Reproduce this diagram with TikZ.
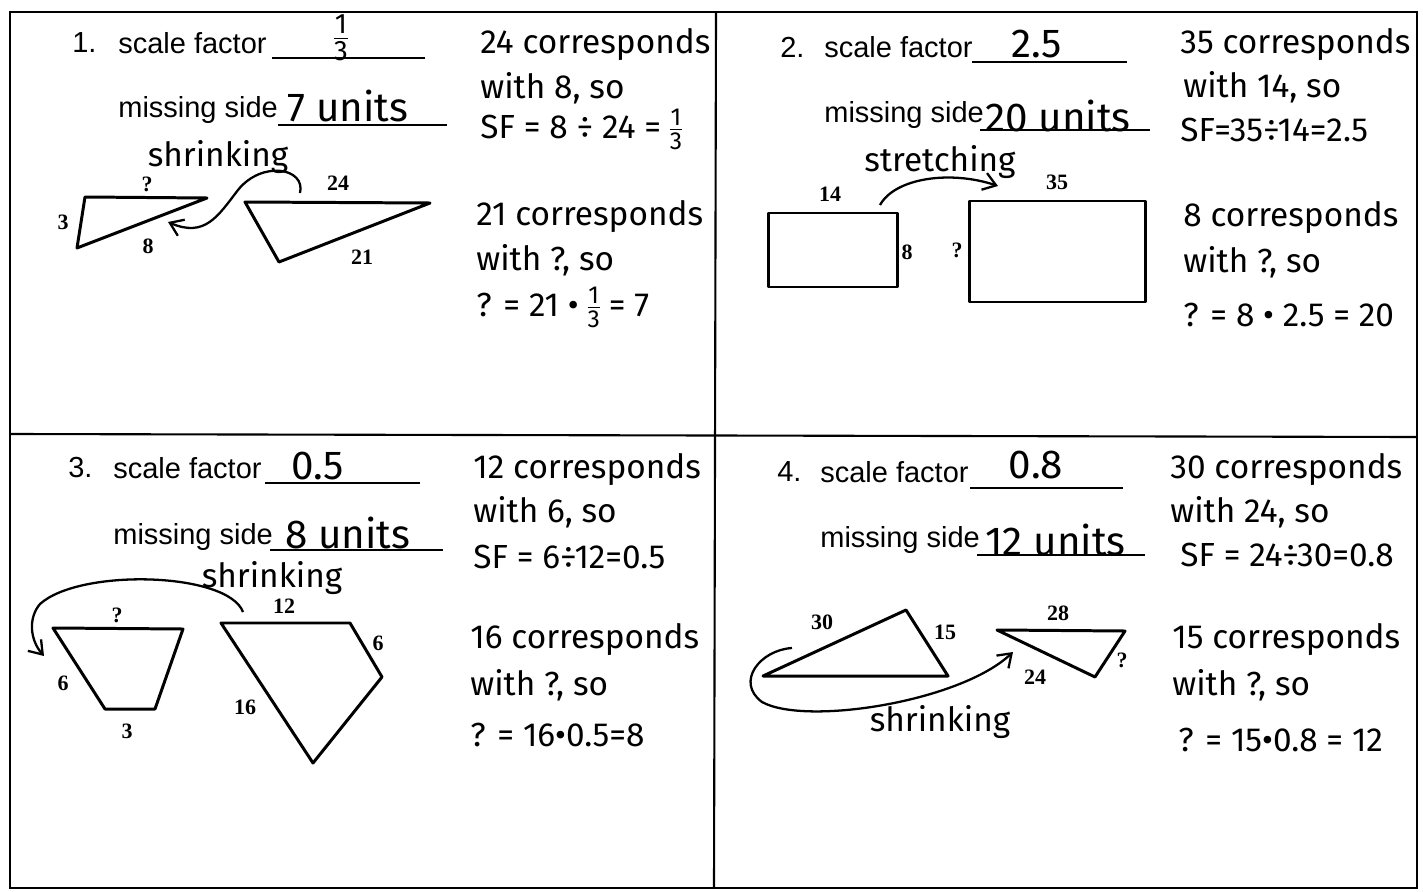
\documentclass[tikz,border=0pt]{standalone}
\usepackage{fontspec}
\setmainfont{Liberation Sans}
\newfontfamily\handfont{Fira Sans}
\newfontfamily\labelfont{Liberation Serif}
\usetikzlibrary{arrows.meta,positioning}
\tikzset{
  printed/.style={font=\fontsize{16.5}{19}\selectfont, anchor=west, inner sep=0pt},
  hand/.style={font=\handfont\fontsize{19}{22}\selectfont, anchor=west, inner sep=0pt},
  answer/.style={font=\handfont\fontsize{23}{26}\selectfont, inner sep=0pt},
  sidelabel/.style={font=\labelfont\bfseries\fontsize{12.5}{14}\selectfont, inner sep=1pt},
  figline/.style={line width=1.7pt, line join=round},
  curvearrow/.style={-{Straight Barb[length=2.5mm,width=3.5mm]}, line width=1.3pt},
  frame/.style={line width=1.2pt},
  answerline/.style={line width=0.8pt}
}
\newcommand\hwfrac[2]{\begin{tabular}{@{}c@{}}#1\\[-3pt]\hline #2\end{tabular}}

\begin{document}
\begin{tikzpicture}[x=0.02cm, y=-0.02cm]
  \useasboundingbox (0,0) rectangle (1423,892);
  % frame
  \draw[frame] (10,12) rectangle (1417,888);
  \draw[frame] (716,12) -- (714,888);
  \draw[frame] (10,434) -- (1417,437);

  % problem 1
  \node[printed] (num1) at (72,43) {1.};
  \node[printed] (sf1) at (118,43) {scale factor};
  \draw[answerline] (272,58) -- (425,58);
  \node[answer, font=\handfont\fontsize{16}{18}\selectfont] (sfval1) at (341,41) {\hwfrac{1}{3}};
  \node[printed] (ms1) at (118,110) {missing side};
  \draw[answerline] (278,125) -- (447,125);
  \node[answer, anchor=west] (msval1) at (287,106) {7 units};
  \node[hand] (wa1) at (480,45) {24 corresponds};
  \node[hand] (wb1) at (480,88) {with 8, so};
  \node[hand] (wc1) at (480,132) {SF = 8 ÷ 24 = {\fontsize{14}{16}\selectfont\hwfrac{1}{3}}};
  \node[hand] (wd1) at (476,217) {21 corresponds};
  \node[hand] (we1) at (476,260) {with ?, so};
  \node[hand] (wf1) at (476,310) {? = 21 \textbullet\ {\fontsize{14}{16}\selectfont\hwfrac{1}{3}} = 7};

  \coordinate (sa1) at (85,197);
  \coordinate (sb1) at (207,198);
  \coordinate (sc1) at (77,248);
  \coordinate (la1) at (245,202);
  \coordinate (lb1) at (430,203);
  \coordinate (lc1) at (279,262);
  \draw[figline] (sa1) -- (sb1) -- (sc1) -- cycle;
  \draw[figline] (la1) -- (lb1) -- (lc1) -- cycle;
  \node[sidelabel] (q1) at (147,184) {?};
  \node[sidelabel] (s3) at (63,222) {3};
  \node[sidelabel] (s8) at (148,246) {8};
  \node[sidelabel] (s24) at (338,183) {24};
  \node[sidelabel] (s21) at (362,257) {21};
  \coordinate (from1) at (300,193);
  \coordinate (to1) at (168,222);
  \draw[curvearrow] (from1) .. controls (306,168) and (262,160) .. (238,190)
    .. controls (218,216) and (205,238) .. (to1);
  \node[hand] (tag1) at (218,157) [anchor=center] {shrinking};

  % problem 2
  \node[printed] (num2) at (780,47) {2.};
  \node[printed] (sf2) at (824,47) {scale factor};
  \draw[answerline] (972,62) -- (1127,62);
  \node[answer] (sfval2) at (1037,44) {2.5};
  \node[printed] (ms2) at (824,115) {missing side};
  \draw[answerline] (980,130) -- (1150,130);
  \node[answer, anchor=west] (msval2) at (985,116) {20 units};
  \node[hand] (wa2) at (1180,45) {35 corresponds};
  \node[hand] (wb2) at (1183,87) {with 14, so};
  \node[hand] (wc2) at (1180,130) {SF=35÷14=2.5};
  \node[hand] (wd2) at (1183,218) {8 corresponds};
  \node[hand] (we2) at (1183,262) {with ?, so};
  \node[hand] (wf2) at (1183,315) {? = 8 \textbullet\ 2.5 = 20};

  \draw[figline] (768,213) rectangle (897,287);
  \draw[figline] (969,201) rectangle (1145,302);
  \node[sidelabel] (s14) at (830,194) {14};
  \node[sidelabel] (s8b) at (907,252) {8};
  \node[sidelabel] (q2) at (957,250) {?};
  \node[sidelabel] (s35) at (1057,182) {35};
  \coordinate (from2) at (880,205);
  \coordinate (to2) at (998,186);
  \draw[curvearrow] (from2) .. controls (895,178) and (950,170) .. (to2);
  \node[hand] (tag2) at (940,162) [anchor=center] {stretching};

  % problem 3
  \node[printed] (num3) at (68,468) {3.};
  \node[printed] (sf3) at (113,468) {scale factor};
  \draw[answerline] (265,483) -- (420,483);
  \node[answer] (sfval3) at (318,466) {0.5};
  \node[printed] (ms3) at (113,537) {missing side};
  \draw[answerline] (270,550) -- (443,550);
  \node[answer, anchor=west] (msval3) at (285,533) {8 units};
  \node[hand] (wa3) at (473,470) {12 corresponds};
  \node[hand] (wb3) at (473,512) {with 6, so};
  \node[hand] (wc3) at (473,557) {SF = 6÷12=0.5};
  \node[hand] (wd3) at (470,640) {16 corresponds};
  \node[hand] (we3) at (470,685) {with ?, so};
  \node[hand] (wf3) at (470,735) {? = 16\textbullet0.5=8};

  \coordinate (ta3) at (53,628);
  \coordinate (tb3) at (183,629);
  \coordinate (tc3) at (155,709);
  \coordinate (td3) at (105,709);
  \coordinate (pa3) at (221,623);
  \coordinate (pb3) at (350,623);
  \coordinate (pc3) at (382,677);
  \coordinate (pd3) at (313,763);
  \draw[figline] (ta3) -- (tb3) -- (tc3) -- (td3) -- cycle;
  \draw[figline] (pa3) -- (pb3) -- (pc3) -- (pd3) -- cycle;
  \node[sidelabel] (q3) at (117,615) {?};
  \node[sidelabel] (s6) at (63,683) {6};
  \node[sidelabel] (s3b) at (127,731) {3};
  \node[sidelabel] (s12) at (284,606) {12};
  \node[sidelabel] (s6b) at (378,643) {6};
  \node[sidelabel] (s16) at (245,707) {16};
  \coordinate (from3) at (243,612);
  \coordinate (to3) at (44,656);
  \draw[curvearrow] (from3) .. controls (228,572) and (80,568) .. (40,604)
    .. controls (28,618) and (30,640) .. (to3);
  \node[hand] (tag3) at (272,578) [anchor=center] {shrinking};

  % problem 4
  \node[printed] (num4) at (777,472) {4.};
  \node[printed] (sf4) at (820,472) {scale factor};
  \draw[answerline] (970,488) -- (1123,488);
  \node[answer] (sfval4) at (1036,465) {0.8};
  \node[printed] (ms4) at (820,540) {missing side};
  \draw[answerline] (977,555) -- (1145,555);
  \node[answer, anchor=west] (msval4) at (985,540) {12 units};
  \node[hand] (wa4) at (1170,470) {30 corresponds};
  \node[hand] (wb4) at (1170,512) {with 24, so};
  \node[hand] (wc4) at (1180,555) {SF = 24÷30=0.8};
  \node[hand] (wd4) at (1172,640) {15 corresponds};
  \node[hand] (we4) at (1172,685) {with ?, so};
  \node[hand] (wf4) at (1178,740) {? = 15\textbullet0.8 = 12};

  \coordinate (ra4) at (763,676);
  \coordinate (rb4) at (906,610);
  \coordinate (rc4) at (948,676);
  \coordinate (ua4) at (997,630);
  \coordinate (ub4) at (1125,631);
  \coordinate (uc4) at (1095,677);
  \draw[figline] (ra4) -- (rb4) -- (rc4) -- cycle;
  \draw[figline] (ua4) -- (ub4) -- (uc4) -- cycle;
  \node[sidelabel] (s30) at (822,622) {30};
  \node[sidelabel] (s15) at (945,632) {15};
  \node[sidelabel] (s28) at (1058,613) {28};
  \node[sidelabel] (q4) at (1122,660) {?};
  \node[sidelabel] (s24b) at (1035,677) {24};
  \coordinate (from4) at (792,648);
  \coordinate (to4) at (1013,652);
  \draw[curvearrow] (from4) .. controls (760,650) and (735,682) .. (762,702)
    .. controls (805,726) and (960,702) .. (to4);
  \node[hand] (tag4) at (940,722) [anchor=center] {shrinking};
\end{tikzpicture}
\end{document}
